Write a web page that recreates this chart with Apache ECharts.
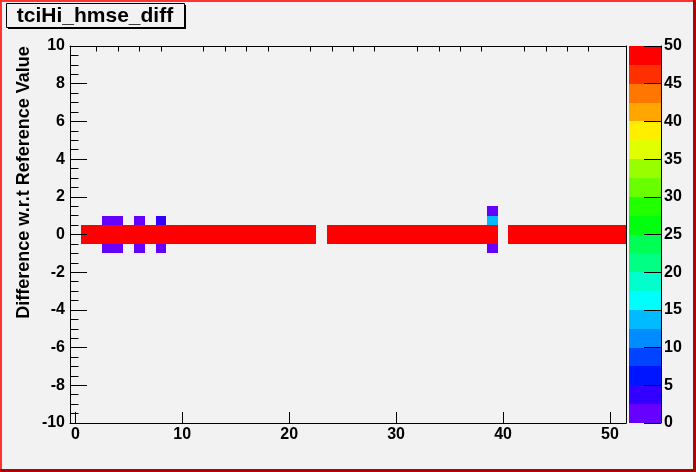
<!DOCTYPE html>
<html><head><meta charset="utf-8">
<script src="https://cdn.jsdelivr.net/npm/echarts@6/dist/echarts.min.js"></script>
<style>html,body{margin:0;padding:0;background:#f2f2f2}#c{width:696px;height:472px}</style>
</head><body><div id="c"></div>
<script>
// ---- data ----
var titleText = 'tciHi_hmse_diff';
var yTitleText = 'Difference w.r.t Reference Value';
var xRange = [-0.5, 51.5];
var yRange = [-10, 10];
var xMajorTicks = [0, 10, 20, 30, 40, 50];
var xMinorTicks = [2, 4, 6, 8, 12, 14, 16, 18, 22, 24, 26, 28, 32, 34, 36, 38, 42, 44, 46, 48];
var zLevels = [0, 2.5, 5, 7.5, 10, 12.5, 15, 17.5, 20, 22.5, 25, 27.5, 30, 32.5, 35, 37.5, 40, 42.5, 45, 47.5, 50];
var palette = ['#6600ff', '#3300ff', '#0015ff', '#0044ff', '#008bff', '#00bbff', '#00fffc', '#00ffcc', '#00ff85', '#00ff55',
               '#00ff0e', '#22ff00', '#69ff00', '#99ff00', '#e0ff00', '#ffee00', '#ffa700', '#ff7700', '#ff3000', '#ff0000'];
var xBinWidth = 1, yBinWidth = 0.5;
// central band: bin centres in x, two y rows
var bandX = [1,2,3,4,5,6,7,8,9,10,11,12,13,14,15,16,17,18,19,20,21,22,
             24,25,26,27,28,29,30,31,32,33,34,35,36,37,38,39,
             41,42,43,44,45,46,47,48,49,50,51];
var bandUpperY = 0.25, bandLowerY = -0.25;
var bandUpperValues = [50,50,50,50,50,50,50,50,50,50,50,50,50,50,50,50,50,50,50,50,50,50,
                       50,50,50,50,50,50,50,50,50,50,50,50,50,50,50,50,
                       50,50,50,50,50,50,50,50,50,50,50];
var bandLowerValues = [50,50,50,50,50,50,50,50,50,50,50,50,50,50,50,50,50,50,50,50,50,50,
                       50,50,50,50,50,50,50,50,50,50,50,50,50,50,50,50,
                       50,50,50,50,50,50,50,50,50,50,50];
// isolated cells
var extraX = [3, 4, 6, 8, 3, 4, 6, 8, 39, 39, 39];
var extraY = [0.75, 0.75, 0.75, 0.75, -0.75, -0.75, -0.75, -0.75, 1.25, 0.75, -0.75];
var extraV = [1, 1, 1, 3, 1, 1, 1, 1, 1, 14, 1];

// ---- build ----
var cells = [];
bandX.forEach(function (x, i) {
  cells.push([x, bandUpperY, bandUpperValues[i]]);
  cells.push([x, bandLowerY, bandLowerValues[i]]);
});
extraX.forEach(function (x, i) { cells.push([x, extraY[i], extraV[i]]); });

var pieces = [];
var barData = [];
for (var i = 0; i < palette.length; i++) {
  var p = {gte: zLevels[i], color: palette[i]};
  if (i === palette.length - 1) p.lte = zLevels[i + 1] * 100; else p.lt = zLevels[i + 1];
  pieces.push(p);
  barData.push([zLevels[i], zLevels[i + 1], i]);
}

var FONT = 'Liberation Sans, Arial, sans-serif';
var lbl = {color: '#000', fontFamily: FONT, fontWeight: 'bold', fontSize: 16};

function rectFrom(p1, p2) {
  var x0 = Math.round(p1[0]), y0 = Math.round(p1[1]);
  var x1 = Math.round(p2[0]), y1 = Math.round(p2[1]);
  return {x: x0, y: y0, width: x1 - x0, height: y1 - y0};
}

var chart = echarts.init(document.getElementById('c'), null, {renderer: 'canvas'});
chart.setOption({
  backgroundColor: '#f2f2f2',
  animation: false,
  grid: [
    {left: 70, right: 70, top: 46, bottom: 49, show: false},
    {left: 629, width: 32, top: 46, bottom: 49, show: false}
  ],
  xAxis: [
    {gridIndex: 0, type: 'value', min: xRange[0], max: xRange[1], z: 10,
     axisLine: {show: true, onZero: false, lineStyle: {color: '#000', width: 1}},
     splitLine: {show: false},
     axisTick: {show: true, inside: true, length: 11, lineStyle: {color: '#000'}, customValues: xMajorTicks},
     axisLabel: Object.assign({margin: 4, customValues: xMajorTicks}, lbl)},
    {gridIndex: 0, type: 'value', min: xRange[0], max: xRange[1], z: 10,
     axisLine: {show: false, onZero: false}, splitLine: {show: false}, axisLabel: {show: false},
     axisTick: {show: true, inside: true, length: 5.5, lineStyle: {color: '#000'}, customValues: xMinorTicks}},
    {gridIndex: 1, type: 'value', min: 0, max: 1, show: false, axisLine: {onZero: false}},
    {gridIndex: 0, type: 'value', position: 'top', min: xRange[0], max: xRange[1], z: 10,
     axisLine: {show: true, onZero: false, lineStyle: {color: '#000', width: 1}},
     axisTick: {show: false}, axisLabel: {show: false}, splitLine: {show: false}}
  ],
  yAxis: [
    {gridIndex: 0, type: 'value', min: yRange[0], max: yRange[1], interval: 2, z: 10,
     axisLine: {show: true, onZero: false, lineStyle: {color: '#000', width: 1}},
     splitLine: {show: false},
     axisTick: {show: true, inside: true, length: 17, lineStyle: {color: '#000'}},
     minorTick: {show: true, splitNumber: 4, length: 8.5, lineStyle: {color: '#000'}},
     axisLabel: Object.assign({margin: 5}, lbl)},
    {gridIndex: 0, type: 'value', position: 'right', min: yRange[0], max: yRange[1], z: 10,
     axisLine: {show: true, onZero: false, lineStyle: {color: '#000', width: 1}},
     axisTick: {show: false}, axisLabel: {show: false}, splitLine: {show: false}},
    {gridIndex: 1, type: 'value', position: 'right', min: 0, max: 50, interval: 5, z: 10,
     axisLine: {show: true, onZero: false, lineStyle: {color: '#000', width: 1}},
     splitLine: {show: false},
     axisTick: {show: true, inside: true, length: 17, lineStyle: {color: '#000'}},
     axisLabel: Object.assign({margin: 3}, lbl)}
  ],
  visualMap: [{type: 'piecewise', show: false, seriesIndex: 0, dimension: 2, pieces: pieces}],
  series: [
    {type: 'custom', xAxisIndex: 0, yAxisIndex: 0, data: cells, encode: {x: 0, y: 1},
     clip: true,
     renderItem: function (params, api) {
       var x = api.value(0), y = api.value(1);
       var p1 = api.coord([x - xBinWidth / 2, y + yBinWidth / 2]);
       var p2 = api.coord([x + xBinWidth / 2, y - yBinWidth / 2]);
       return {type: 'rect', shape: rectFrom(p1, p2),
               style: {fill: api.visual('color'), stroke: null}};
     }},
    {type: 'custom', xAxisIndex: 2, yAxisIndex: 2, data: barData, encode: {y: [0, 1]},
     renderItem: function (params, api) {
       var p1 = api.coord([0, api.value(1)]);
       var p2 = api.coord([1, api.value(0)]);
       return {type: 'rect', shape: rectFrom(p1, p2),
               style: {fill: palette[api.value(2)], stroke: null}};
     }}
  ],
  graphic: [
    // canvas border (bevel)
    {type: 'rect', shape: {x: 0, y: 0, width: 2, height: 472}, style: {fill: '#ff3333'}, z: 100},
    {type: 'rect', shape: {x: 0, y: 0, width: 696, height: 2}, style: {fill: '#ff3333'}, z: 100},
    {type: 'rect', shape: {x: 693, y: 0, width: 3, height: 472}, style: {fill: '#b30000'}, z: 101},
    {type: 'rect', shape: {x: 0, y: 469, width: 696, height: 3}, style: {fill: '#b30000'}, z: 101},
    // title box with shadow
    {type: 'rect', shape: {x: 8, y: 5, width: 178, height: 24}, style: {fill: '#000'}, z: 100},
    {type: 'rect', shape: {x: 6.5, y: 3.5, width: 178, height: 24}, style: {fill: '#f2f2f2', stroke: '#000', lineWidth: 1}, z: 101},
    {type: 'text', x: 95, y: 16, z: 102,
     style: {text: titleText, font: 'bold 21px ' + FONT, fill: '#000', textAlign: 'center', textVerticalAlign: 'middle'}},
    // y axis title
    {type: 'text', x: 24.5, y: 182.5, rotation: Math.PI / 2, z: 102,
     style: {text: yTitleText, font: 'bold 18px ' + FONT, fill: '#000', textAlign: 'center', textVerticalAlign: 'middle'}}
  ]
});
</script></body></html>
